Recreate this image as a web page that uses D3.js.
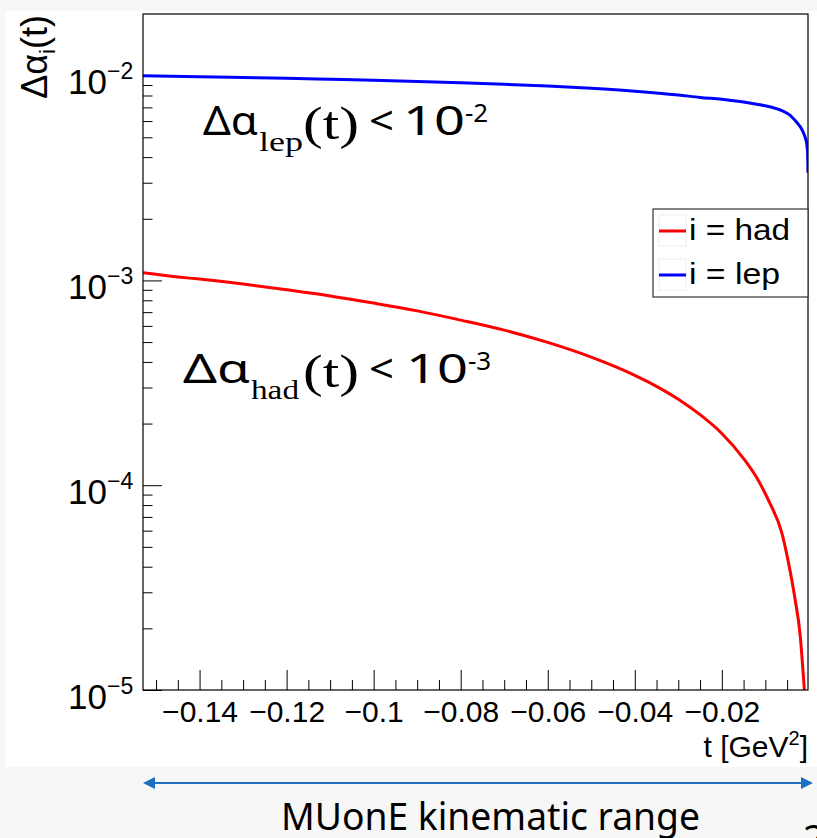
<!DOCTYPE html>
<html><head><meta charset="utf-8">
<script src="https://cdn.jsdelivr.net/npm/d3@7"></script>
<style>
html,body{margin:0;padding:0;background:#f7f7f7;}
svg{display:block;}
</style></head>
<body>
<svg id="chart" width="817" height="838"></svg>
<script>
// ---- data ----
const hadT = [-0.153,-0.145,-0.14,-0.13,-0.12,-0.11,-0.10,-0.09,-0.08,-0.07,-0.06,-0.05,-0.04,-0.035,-0.03,-0.025,-0.02,-0.015,-0.012,-0.0093,-0.0062,-0.0047,-0.0032,-0.002,-0.0013,-0.00104,-0.0006];
const hadVals = [1.09e-3,1.04e-3,1.015e-3,9.6e-4,9.0e-4,8.4e-4,7.75e-4,7.1e-4,6.4e-4,5.72e-4,4.98e-4,4.22e-4,3.44e-4,3.04e-4,2.63e-4,2.21e-4,1.79e-4,1.35e-4,1.09e-4,8.45e-5,5.83e-5,4.2e-5,2.8e-5,1.85e-5,1.2e-5,1.0e-5,6e-6];
const lepT = [-0.153,-0.14,-0.13,-0.12,-0.11,-0.10,-0.09,-0.08,-0.07,-0.06,-0.05,-0.04,-0.03,-0.025,-0.02,-0.0158,-0.012,-0.009,-0.0062,-0.0045,-0.0028,-0.0019,-0.00128,-0.0008,-0.0005,-0.0003,-0.0002];
const lepVals = [1.0e-2,9.89e-3,9.8e-3,9.71e-3,9.6e-3,9.49e-3,9.37e-3,9.23e-3,9.07e-3,8.89e-3,8.67e-3,8.40e-3,8.05e-3,7.83e-3,7.66e-3,7.47e-3,7.25e-3,7.05e-3,6.75e-3,6.45e-3,5.92e-3,5.6e-3,5.28e-3,4.95e-3,4.66e-3,4.2e-3,3.36e-3];
const xTicks = [-0.14,-0.12,-0.10,-0.08,-0.06,-0.04,-0.02];
const xTickLabels = ["\u22120.14","\u22120.12","\u22120.1","\u22120.08","\u22120.06","\u22120.04","\u22120.02"];
const xMinor = [-0.15,-0.145,-0.135,-0.13,-0.125,-0.115,-0.11,-0.105,-0.095,-0.09,-0.085,-0.075,-0.07,-0.065,-0.055,-0.05,-0.045,-0.035,-0.03,-0.025,-0.015,-0.01,-0.005];
const yTicks = [1e-5,1e-4,1e-3,1e-2];
const yTickExps = ["\u22125","\u22124","\u22123","\u22122"];
const seriesNames = ["i = had","i = lep"];
const seriesColors = ["#ff0000","#0000ff"];

const svg = d3.select("#chart");
svg.append("rect").attr("x",5).attr("y",11).attr("width",812).attr("height",756).attr("fill","#ffffff");

const L=143,R=808,T=14,B=690;
const x = d3.scaleLinear().domain([-0.153,-0.0002]).range([L,R]);
const y = d3.scaleLog().domain([1e-5,2e-2]).range([B,T]);

const defs = svg.append("defs");
defs.append("clipPath").attr("id","plotclip").append("rect").attr("x",L).attr("y",T).attr("width",R-L).attr("height",B-T);

const yMinor = [];
[1e-5,1e-4,1e-3].forEach(d=>{for(let k=2;k<=9;k++) yMinor.push(d*k);});

const gx = svg.append("g").attr("transform",`translate(0,${B})`);
gx.call(d3.axisBottom(x).tickValues(xTicks).tickSize(-20).tickFormat((d,i)=>xTickLabels[i]));
gx.select(".domain").remove();
gx.selectAll("line").attr("stroke","#000").attr("stroke-width",1);
gx.selectAll("text").attr("y",32).attr("dy",0).attr("font-family","'Liberation Sans',Arial,sans-serif").attr("font-size",30).attr("fill","#000");
const gxm = svg.append("g").attr("transform",`translate(0,${B})`);
gxm.call(d3.axisBottom(x).tickValues(xMinor).tickSize(-10).tickFormat(""));
gxm.select(".domain").remove();
gxm.selectAll("line").attr("stroke","#000").attr("stroke-width",1);

const gy = svg.append("g").attr("transform",`translate(${L},0)`);
gy.call(d3.axisLeft(y).tickValues(yTicks).tickSize(-19).tickFormat(""));
gy.select(".domain").remove();
gy.selectAll("line").attr("stroke","#000").attr("stroke-width",1);
gy.selectAll(".tick").each(function(d,i){
  d3.select(this).append("text").attr("fill","#000").attr("font-family","'Liberation Sans',Arial,sans-serif")
    .attr("x",-36).attr("y",18).attr("text-anchor","end").attr("font-size",35).text("10");
  d3.select(this).append("text").attr("fill","#000").attr("font-family","'Liberation Sans',Arial,sans-serif")
    .attr("x",-36).attr("y",3).attr("text-anchor","start").attr("font-size",23).text(yTickExps[i]);
});
const gym = svg.append("g").attr("transform",`translate(${L},0)`);
gym.call(d3.axisLeft(y).tickValues(yMinor).tickSize(-9.5).tickFormat(""));
gym.select(".domain").remove();
gym.selectAll("line").attr("stroke","#000").attr("stroke-width",1);

// curves
const line = d3.line().x(d=>x(d[0])).y(d=>y(d[1])).curve(d3.curveMonotoneX);
const plot = svg.append("g").attr("clip-path","url(#plotclip)");
plot.append("path").datum(hadT.map((t,i)=>[t,hadVals[i]])).attr("d",line).attr("fill","none").attr("stroke",seriesColors[0]).attr("stroke-width",3);
plot.append("path").datum(lepT.map((t,i)=>[t,lepVals[i]])).attr("d",line).attr("fill","none").attr("stroke",seriesColors[1]).attr("stroke-width",3);

// frame
svg.append("rect").attr("x",L).attr("y",T).attr("width",R-L).attr("height",B-T).attr("fill","none").attr("stroke","#000").attr("stroke-width",1.2);

// legend
const lg = svg.append("g");
lg.append("rect").attr("x",653).attr("y",209).attr("width",155).attr("height",88).attr("fill","#fff").attr("stroke","#333").attr("stroke-width",1.2);
seriesNames.forEach((n,i)=>{
  const yy = 231 + i*44;
  lg.append("rect").attr("x",659).attr("y",yy-16).attr("width",27).attr("height",31).attr("fill","none").attr("stroke","#eeeeee").attr("stroke-width",1);
  lg.append("line").attr("x1",659).attr("x2",686).attr("y1",yy).attr("y2",yy).attr("stroke",seriesColors[i]).attr("stroke-width",3);
  lg.append("text").attr("x",689).attr("y",yy+9).attr("font-family","'Liberation Sans',Arial,sans-serif").attr("font-size",29)
    .attr("textLength", i===0 ? 101 : 91).attr("lengthAdjust","spacingAndGlyphs").attr("fill","#000").text(n);
});

// y axis title
const yt = svg.append("text").attr("transform","translate(47,15) rotate(-90)").attr("text-anchor","end")
  .attr("font-family","'Liberation Sans',Arial,sans-serif").attr("font-size",36).attr("fill","#000");
yt.append("tspan").text("\u0394\u03b1");
yt.append("tspan").attr("font-size",22).attr("dy",8).text("i");
yt.append("tspan").attr("dy",-8).text("(t)");

// x axis title
const xt = svg.append("text").attr("x",808).attr("y",757).attr("text-anchor","end")
  .attr("font-family","'Liberation Sans',Arial,sans-serif").attr("font-size",30).attr("fill","#000");
xt.append("tspan").text("t [GeV");
xt.append("tspan").attr("font-size",20).attr("dy",-12).text("2");
xt.append("tspan").attr("dy",12).text("]");

// annotations
function annot(x0, base, sub, subW, daW, exp, ltX, tenX){
  const g = svg.append("g").attr("fill","#000");
  g.append("text").attr("x",x0).attr("y",base).attr("font-family","'Noto Sans',sans-serif").attr("font-size",40)
    .attr("textLength",daW).attr("lengthAdjust","spacingAndGlyphs").text("\u0394\u03b1");
  g.append("text").attr("x",x0+daW+1).attr("y",base+16).attr("font-family","'Liberation Serif',serif").attr("font-size",27)
    .attr("textLength",subW).attr("lengthAdjust","spacingAndGlyphs").text(sub);
  g.append("text").attr("x",303).attr("y",base+4).attr("font-family","'Liberation Serif',serif").attr("font-size",47)
    .attr("textLength",56).attr("lengthAdjust","spacingAndGlyphs").text("(t)");
  g.append("text").attr("x",ltX).attr("y",base).attr("font-family","'Noto Sans',sans-serif").attr("font-size",40)
    .attr("textLength",25).attr("lengthAdjust","spacingAndGlyphs").text("<");
  g.append("text").attr("x",tenX).attr("y",base).attr("font-family","'Noto Sans',sans-serif").attr("font-size",40)
    .attr("textLength",62).attr("lengthAdjust","spacingAndGlyphs").text("10");
  g.append("text").attr("x",tenX+62).attr("y",base-13).attr("font-family","'Noto Sans',sans-serif").attr("font-size",26).text(exp);
}
annot(203,135,"lep",44,55,"-2",369,403);
annot(183,383,"had",48,67,"-3",369,406);

// bottom arrow and caption
const ac = "#1f70c1";
svg.append("line").attr("x1",152).attr("x2",804).attr("y1",783).attr("y2",783).attr("stroke",ac).attr("stroke-width",2);
svg.append("path").attr("d","M143,783 L155,777 L155,789 Z").attr("fill",ac);
svg.append("path").attr("d","M813,783 L801,777 L801,789 Z").attr("fill",ac);
svg.append("text").attr("x",281).attr("y",830).attr("font-family","'Noto Sans',sans-serif").attr("font-size",38)
  .attr("textLength",419).attr("lengthAdjust","spacingAndGlyphs").attr("fill","#000").text("MUonE kinematic range");
svg.append("text").attr("x",803).attr("y",852).attr("font-family","'Noto Sans',sans-serif").attr("font-size",38).attr("fill","#000").text("2");
</script>
</body></html>
